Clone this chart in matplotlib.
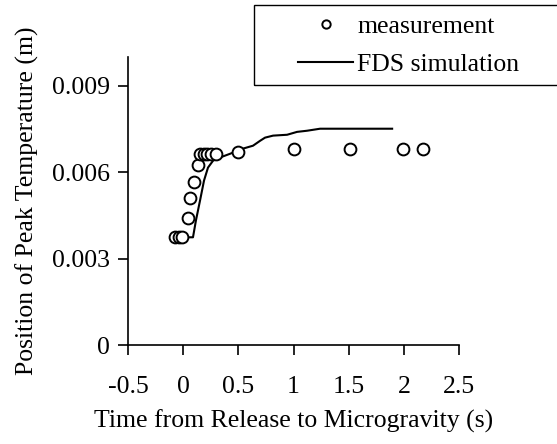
import matplotlib
matplotlib.use("Agg")
import matplotlib.pyplot as plt
from matplotlib.patches import Rectangle
from matplotlib.lines import Line2D

plt.rcParams['font.family'] = ['Liberation Serif', 'DejaVu Serif']

# measurement data
meas_t = [-0.07, -0.04, -0.01, 0.04, 0.06, 0.10, 0.135, 0.15, 0.19, 0.22, 0.25, 0.30, 0.50, 1.00, 1.51, 1.99, 2.17]
meas_pos = [0.00374, 0.00374, 0.00374, 0.0044, 0.0051, 0.00567, 0.00626, 0.00664, 0.00664, 0.00664, 0.00664, 0.00664,
            0.0067, 0.0068, 0.0068, 0.0068, 0.0068]

# FDS simulation
fds_t = [-0.05, 0.05, 0.089, 0.116, 0.153, 0.189, 0.225, 0.271, 0.334, 0.425, 0.543, 0.633, 0.697, 0.742, 0.815,
         0.942, 1.032, 1.123, 1.241, 1.894]
fds_pos = [0.00374, 0.00374, 0.00374, 0.00433, 0.00502, 0.00571, 0.00616, 0.00640, 0.00651, 0.00664, 0.00682,
           0.00692, 0.00709, 0.00720, 0.00727, 0.00730, 0.00740, 0.00744, 0.00751, 0.00751]

x_ticks = [-0.5, 0, 0.5, 1, 1.5, 2, 2.5]
x_ticklabels = ['-0.5', '0', '0.5', '1', '1.5', '2', '2.5']
y_ticks = [0, 0.003, 0.006, 0.009]
y_ticklabels = ['0', '0.003', '0.006', '0.009']

W, H = 557, 444
fig = plt.figure(figsize=(W / 100, H / 100), dpi=100)
ax = fig.add_axes([128 / W, 1 - 345 / H, (459 - 128) / W, (345 - 57) / H])

FS = 18.5
ax.plot(fds_t, fds_pos, color='black', lw=1.5, zorder=2)
ax.plot(meas_t, meas_pos, linestyle='none', marker='o', ms=8.5, mfc='white', mec='black', mew=1.4, zorder=3)

ax.set_xlim(-0.5, 2.5)
ax.set_ylim(0, 0.01)
ax.set_xticks(x_ticks)
ax.set_xticklabels(x_ticklabels, fontsize=FS)
ax.set_yticks(y_ticks)
ax.set_yticklabels(y_ticklabels, fontsize=FS)
ax.tick_params(axis='x', direction='out', length=7, width=1.2, pad=15)
ax.tick_params(axis='y', direction='out', length=7, width=1.2, pad=6)
for s in ['top', 'right']:
    ax.spines[s].set_visible(False)
for s in ['left', 'bottom']:
    ax.spines[s].set_linewidth(1.2)

ax.set_xlabel('Time from Release to Microgravity (s)', fontsize=FS, labelpad=9)
ax.set_ylabel('Position of Peak Temperature (m)', fontsize=FS, labelpad=9)

# legend
handles = [Line2D([], [], linestyle='none', marker='o', ms=6, mfc='white', mec='black', mew=1.4),
           Line2D([], [], color='black', lw=1.5)]
leg = fig.legend(handles, ['measurement', 'FDS simulation'], loc='upper left',
                 bbox_to_anchor=(298 / W, 1 - 15 / H), frameon=False, fontsize=FS,
                 borderpad=0, borderaxespad=0, handlelength=2.15, handletextpad=0.15,
                 labelspacing=0.6)
fig.patches.append(Rectangle((254 / W, 1 - 85 / H), (600 - 254) / W, 80 / H,
                             transform=fig.transFigure, fill=False, edgecolor='black', lw=1.0))

fig.savefig('out.png', dpi=100)
